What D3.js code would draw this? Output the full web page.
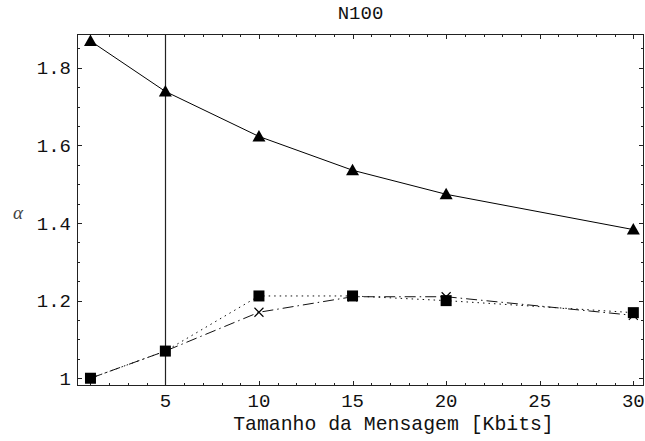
<!DOCTYPE html>
<html><head><meta charset="utf-8">
<script src="https://cdn.jsdelivr.net/npm/d3@7"></script>
<style>body{margin:0;background:#fff}svg{display:block}</style>
</head><body>
<svg id="c" width="645" height="441"></svg>
<script>
const sizes = [1, 5, 10, 15, 20, 30];
const triangleSeries = [1.869, 1.739, 1.623, 1.536, 1.474, 1.383];
const squareSeries = [1.0, 1.070, 1.212, 1.212, 1.200, 1.169];
const crossSeries = [1.0, 1.070, 1.170, 1.210, 1.210, 1.162];
const xTicks = [5, 10, 15, 20, 25, 30];
const yTicks = [1, 1.2, 1.4, 1.6, 1.8];
const markerLineX = 5;
const title = "N100";
const xLabel = "Tamanho da Mensagem [Kbits]";
const yLabel = "α";

const svg = d3.select("#c");
const L = 77, R = 644, T = 34, B = 386;
const x = d3.scaleLinear().domain([0.28, 30.57]).range([L, R]);
const y = d3.scaleLinear().domain([0.98, 1.887]).range([B, T]);
const font = "'Liberation Mono','Courier New',monospace";

// ticks (inside, all four sides)
const xMinor = d3.range(1, 31).filter(v => !xTicks.includes(v));
const yMinor = d3.range(0, 19).map(i => +(1 + i * 0.05).toFixed(2)).filter(v => !yTicks.some(t => Math.abs(t - v) < 1e-6) && v <= 1.88);
const tg = svg.append("g").attr("stroke", "#222").attr("stroke-width", 1);
function xt(vals, len) {
  vals.forEach(v => {
    const px = Math.round(x(v)) + 0.5;
    tg.append("line").attr("x1", px).attr("x2", px).attr("y1", B).attr("y2", B - len);
    tg.append("line").attr("x1", px).attr("x2", px).attr("y1", T).attr("y2", T + len);
  });
}
function yt(vals, len) {
  vals.forEach(v => {
    const py = Math.round(y(v)) + 0.5;
    tg.append("line").attr("y1", py).attr("y2", py).attr("x1", L).attr("x2", L + len);
    tg.append("line").attr("y1", py).attr("y2", py).attr("x1", R).attr("x2", R - len);
  });
}
xt(xTicks, 5); xt(xMinor, 3);
yt(yTicks, 5); yt(yMinor, 3);

// frame
svg.append("rect").attr("x", L + 0.5).attr("y", T + 0.5).attr("width", R - L - 1).attr("height", B - T - 1)
  .attr("fill", "none").attr("stroke", "#222").attr("stroke-width", 1);

// tick labels
svg.append("g").selectAll("text").data(xTicks).join("text")
  .attr("x", d => x(d)).attr("y", 406.5).attr("text-anchor", "middle")
  .attr("font-family", font).attr("font-size", 19).attr("fill", "#111").text(d => d);
svg.append("g").selectAll("text").data(yTicks).join("text")
  .attr("x", 71).attr("y", d => y(d)).attr("dy", "0.35em").attr("text-anchor", "end")
  .attr("font-family", font).attr("font-size", 19).attr("fill", "#111")
  .text(d => d === 1 ? "1" : d.toFixed(1));

// labels
svg.append("text").attr("x", (L + R) / 2).attr("y", 19).attr("text-anchor", "middle")
  .attr("font-family", font).attr("font-size", 19).attr("fill", "#111").text(title);
svg.append("text").attr("x", 393.5).attr("y", 429.5).attr("text-anchor", "middle")
  .attr("font-family", font).attr("font-size", 19.8).attr("fill", "#111").text(xLabel);
svg.append("text").attr("x", 18).attr("y", 212).attr("dy", "0.35em").attr("text-anchor", "middle")
  .attr("font-family", "'Liberation Serif','DejaVu Serif',serif").attr("font-style", "italic")
  .attr("font-size", 19).attr("fill", "#444").text(yLabel);

// vertical line at x=5
svg.append("line").attr("x1", Math.round(x(markerLineX)) + 0.5).attr("x2", Math.round(x(markerLineX)) + 0.5)
  .attr("y1", T).attr("y2", B).attr("stroke", "#222").attr("stroke-width", 1.2);

const line = d3.line().x(d => x(d[0])).y(d => y(d[1]));
const pts = s => sizes.map((v, i) => [v, s[i]]);

svg.append("path").attr("d", line(pts(crossSeries))).attr("fill", "none")
  .attr("stroke", "#111").attr("stroke-width", 1).attr("stroke-dasharray", "11,4,1.5,4");
svg.append("path").attr("d", line(pts(squareSeries))).attr("fill", "none")
  .attr("stroke", "#111").attr("stroke-width", 1).attr("stroke-dasharray", "1.5,4");
svg.append("path").attr("d", line(pts(triangleSeries))).attr("fill", "none")
  .attr("stroke", "#000").attr("stroke-width", 1);

// markers
const cs = 4.5;
svg.append("g").selectAll("path").data(pts(crossSeries)).join("path")
  .attr("d", d => { const cx = x(d[0]), cy = y(d[1]); return `M${cx-cs},${cy-cs}L${cx+cs},${cy+cs}M${cx-cs},${cy+cs}L${cx+cs},${cy-cs}`; })
  .attr("stroke", "#000").attr("stroke-width", 1.1).attr("fill", "none");
const ss = 11;
svg.append("g").selectAll("rect").data(pts(squareSeries)).join("rect")
  .attr("x", d => x(d[0]) - ss / 2).attr("y", d => y(d[1]) - ss / 2).attr("width", ss).attr("height", ss).attr("fill", "#000");
svg.append("g").selectAll("path").data(pts(triangleSeries)).join("path")
  .attr("d", d => { const cx = x(d[0]), cy = y(d[1]); return `M${cx},${cy-6.5}L${cx+6.5},${cy+5}L${cx-6.5},${cy+5}Z`; })
  .attr("fill", "#000");
</script>
</body></html>
